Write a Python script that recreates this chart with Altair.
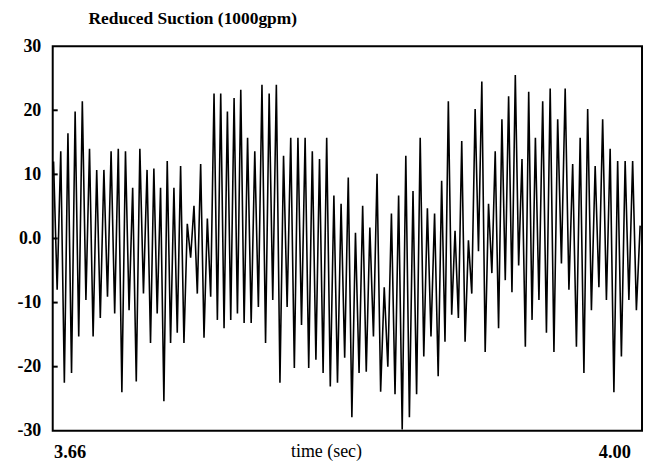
import altair as alt
import pandas as pd
import numpy as np

# time window edges (s) of the six read-off segments
segment_edges = [3.6489, 3.7095, 3.7700, 3.8306, 3.8912, 3.9518, 4.0173]

# suction signal, peaks and troughs read segment by segment
seg1 = [12, -8, 13.6, -22.5, 16.4, -21, 19.8, -15.3, 21.4, -9.6, 14, -15.3, 10.7, -12.4,
        10.7, -9.1, 13.6, -11.7, 14, -24, 13.6, -11.2, 7.9, -22.3, 14, -8.6, 10.7]
seg2 = [-16.3, 10.9, -11.7, 7.9, -25.4, 12.1, -16.3, 7.9, -14.7, 11.3, -16.3, 2.3, -3, 5.1,
        -8.6, 11.6, -15.5, 3.1, -9.1, 22.6, -12.7, 22.6, -14, 19.8, -12.7, 21.9, -11.7, 23.2, -13.2]
seg3 = [15.7, -13.2, 13.6, -10.7, 24, -16.3, 22.6, -9.6, 24, -22.5, 12.9, -10.7, 15.7, -20.2,
        15.7, -13.5, 15.7, -20.2, 13.6, -18.9, 12.4, -21, 15.7, -23.1, 6.7, -22.5, 5.4]
seg4 = [-18.6, 9.5, -27.9, 0.9, -21, 5.1, -20.8, 1.7, -15.3, 10.1, -23.9, -7.6, -20, 3.9,
        -24.3, 6.7, -29.8, 12.9, -27.9, 7.4, -24.3, 15.7, -18.4, 4.7, -15.3, 3.9, -21.5]
seg5 = [9, -16.1, 21.4, -11.9, 1.2, -12.4, 15.2, -16.1, -0.3, -8.6, 20.2, -2, 24.5, -17.7,
        5.4, -5.4, 13.6, -14, 18.6, -6.5, 22.2, -8.4, 25.5, -4.2, 12.4, -16.9, 22.9, -12.7, 15.7]
seg6 = [-9.6, 21.4, -14.7, 23.4, -17.7, 18.6, -3.9, 23.4, -8, 11.6, -16.9, 15.7, -21, 20.2,
        -11.2, 11.3, -7.6, 18.6, -9.6, 14, -24, 12.1, -18.4, 12.1, -9.6, 12.1, -11.2, 2]

segments = [seg1, seg2, seg3, seg4, seg5, seg6]

y_ticks = [-30, -20, -10, 0, 10, 20, 30]
inner_ticks = [-20, -10, 0, 10, 20]
x_labels = [3.66, 4.00]
chart_title = ["Reduced Suction (1000gpm)"]

rows = []
for i, seg in enumerate(segments):
    t0, t1 = segment_edges[i], segment_edges[i + 1]
    n = len(seg)
    ts = np.linspace(t0, t1, n, endpoint=False) + (t1 - t0) / n / 2
    for t, v in zip(ts, seg):
        rows.append({"time": float(t), "value": v})
df = pd.DataFrame(rows)

FONT = "Liberation Serif"
xscale = alt.Scale(domain=[3.6495, 4.0173], nice=False, zero=False)
yscale = alt.Scale(domain=[-30, 30], nice=False)

line = alt.Chart(df).mark_line(color="black", strokeWidth=1.6).encode(
    x=alt.X("time:Q", scale=xscale,
            axis=alt.Axis(values=x_labels, format=".2f", ticks=False, domain=False, grid=False,
                          title="time (sec)", labelFont=FONT, labelFontSize=18.5,
                          labelFontWeight="bold", labelColor="black", labelPadding=12,
                          labelBaseline="top",
                          titleFont=FONT, titleFontSize=18, titleFontWeight="normal",
                          titleColor="black", titleY=12, titleX=275, titleAlign="center",
                          titleBaseline="top")),
    y=alt.Y("value:Q", scale=yscale,
            axis=alt.Axis(values=y_ticks, ticks=False, domain=False, grid=False, title=None,
                          labelExpr="datum.value == 0 ? '0.0' : '' + datum.value",
                          labelFont=FONT, labelFontSize=18, labelFontWeight="bold",
                          labelColor="black", labelPadding=12)),
)

ticks = alt.Chart(pd.DataFrame({"v": inner_ticks})).mark_rule(color="black", strokeWidth=2).encode(
    y=alt.Y("v:Q", scale=yscale),
    x=alt.value(0), x2=alt.value(5),
)

title = alt.Chart(pd.DataFrame({"t": chart_title})).mark_text(
    font=FONT, fontSize=17.5, fontWeight="bold", color="black", align="left", baseline="middle"
).encode(text="t:N", x=alt.value(36), y=alt.value(-27))

chart = (line + ticks + title).properties(
    width=593, height=387,
    autosize=alt.AutoSizeParams(type="none"),
    padding={"left": 45, "top": 37, "right": 2, "bottom": 30},
).configure_view(stroke="black", strokeWidth=2)

chart.save("out.html", embed_options={"renderer": "svg", "actions": False})
